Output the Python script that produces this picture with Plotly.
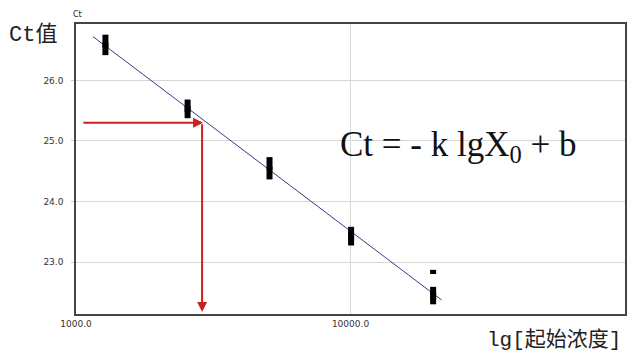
import numpy as np
import plotly.graph_objects as go

# ---- data ----
conc = [1280, 2550, 5070, 10050, 20000]          # starting concentration
ct_rep1 = [26.65, 25.58, 24.63, 23.48, 22.49]    # replicate Ct (upper)
ct_rep2 = [26.52, 25.48, 24.47, 23.38, 22.41]    # replicate Ct (lower)
outlier_conc = [20000]
outlier_ct = [22.84]
fit_k = 3.421
fit_b = 37.197
fit_conc_range = [1153, 21480]
read_ct = 25.30          # measured Ct of the unknown
read_conc = 2880         # read-off concentration
arrow_start_conc = 1051
arrow_bottom_ct = 22.18
y_ticks = [23, 24, 25, 26]
x_ticks = [1000, 10000]
x_ticklabels = ["1000.0", "10000.0"]

fig = go.Figure()

# fitted line
fx = np.array(fit_conc_range, dtype=float)
fy = fit_b - fit_k * np.log10(fx)
fig.add_trace(go.Scatter(x=fx, y=fy, mode="lines",
                         line=dict(color="#3b3b86", width=1),
                         hoverinfo="skip", showlegend=False))

# replicate markers
for ys in (ct_rep1, ct_rep2):
    fig.add_trace(go.Scatter(x=conc, y=ys, mode="markers",
                             marker=dict(symbol="line-ns-open", size=9, color="black",
                                         line=dict(width=6, color="black")),
                             showlegend=False))
fig.add_trace(go.Scatter(x=outlier_conc, y=outlier_ct, mode="markers",
                         marker=dict(symbol="line-ns-open", size=3, color="black",
                                     line=dict(width=6, color="black")),
                         showlegend=False))

red = "#cc1f1f"
# horizontal arrow
fig.add_annotation(x=np.log10(read_conc) + 0.0036, y=read_ct,
                   ax=np.log10(arrow_start_conc), ay=read_ct,
                   xref="x", yref="y", axref="x", ayref="y",
                   showarrow=True, arrowhead=2, arrowsize=1, arrowwidth=2,
                   arrowcolor=red, text="")
# vertical arrow
fig.add_annotation(x=np.log10(read_conc), y=arrow_bottom_ct,
                   ax=np.log10(read_conc), ay=read_ct,
                   xref="x", yref="y", axref="x", ayref="y",
                   showarrow=True, arrowhead=2, arrowsize=1, arrowwidth=2,
                   arrowcolor=red, text="")

# texts
cjk_font = "Liberation Mono, Noto Sans CJK SC"
fig.add_annotation(x=-0.126, y=0.962, xref="paper", yref="paper", showarrow=False,
                   text="Ct值", font=dict(family=cjk_font, size=22, color="#222"),
                   xanchor="left", yanchor="middle")
fig.add_annotation(x=0.002, y=1.033, xref="paper", yref="paper", showarrow=False,
                   text="Ct", font=dict(family="DejaVu Sans", size=8, color="#222"),
                   xanchor="center", yanchor="middle")
fig.add_annotation(x=0.996, y=-0.09, xref="paper", yref="paper", showarrow=False,
                   text="lg[起始浓度]", font=dict(family=cjk_font, size=21, color="#222"),
                   xanchor="right", yanchor="middle")
fig.add_annotation(x=0.696, y=0.578, xref="paper", yref="paper", showarrow=False,
                   text="Ct = - k lgX<sub>0</sub> + b",
                   font=dict(family="Liberation Serif", size=35, color="#111"),
                   xanchor="center", yanchor="middle")

axis_font = dict(family="DejaVu Sans", size=9, color="#333")
fig.update_xaxes(type="log", range=[3, 5], tickvals=x_ticks, ticktext=x_ticklabels,
                 showgrid=True, gridcolor="#d6d6d6", gridwidth=1,
                 showline=True, linecolor="#444", linewidth=1.5, mirror=True,
                 ticks="", tickfont=axis_font, zeroline=False)
fig.update_yaxes(range=[22.146, 26.93], tickvals=y_ticks, tickformat=".1f",
                 showgrid=True, gridcolor="#d6d6d6", gridwidth=1,
                 showline=True, linecolor="#444", linewidth=1.5, mirror=True,
                 ticks="outside", ticklen=3, tickcolor="#cccccc",
                 ticklabelstandoff=6, tickfont=axis_font, zeroline=False)

fig.update_layout(width=640, height=363,
                  margin=dict(l=76, r=15, t=24, b=49),
                  paper_bgcolor="white", plot_bgcolor="white",
                  showlegend=False)

fig.write_html("out.html")
